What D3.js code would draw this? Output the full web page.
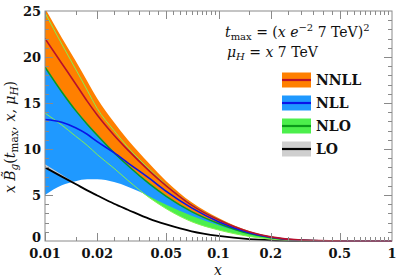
<!DOCTYPE html>
<html>
<head>
<meta charset="utf-8">
<script src="https://cdn.jsdelivr.net/npm/d3@7"></script>
<style>
    body { margin: 0; background: #fff; }
    svg { display: block; }
    .tick-label { font-family: "DejaVu Serif", serif; font-weight: bold; font-size: 13px; fill: #111; }
    .math { font-family: "DejaVu Serif", serif; font-size: 14px; fill: #111; }
    .legend-label { font-family: "DejaVu Serif", serif; font-weight: bold; font-size: 14px; fill: #111; }
</style>
</head>
<body>
<div id="chart"></div>
<script>

// x grid the curves are read at
const xs = [0.01, 0.0125, 0.015, 0.0175, 0.02, 0.025, 0.03, 0.04, 0.05, 0.07, 0.1, 0.15, 0.2, 0.3, 0.5, 0.7, 1];

// NNLL band + central value
const nnllHi  = [25.3, 22.1, 19.6, 17.4, 15.5, 12.9, 11.0, 8.4, 6.5, 4.2, 2.5, 1.1, 0.5, 0.12, 0.01, 0, 0];
const nnllMid = [22.0, 19.3, 17.1, 15.2, 13.7, 11.5, 9.9, 7.6, 6.0, 3.9, 2.3, 1.0, 0.45, 0.1, 0.01, 0, 0];
const nnllLo  = [19.0, 16.3, 14.3, 12.8, 11.6, 9.7, 8.3, 6.3, 4.95, 3.25, 1.95, 0.85, 0.38, 0.08, 0.005, 0, 0];

// NLL band + central value
const nllHi  = [21.0, 18.5, 16.5, 14.8, 13.3, 11.2, 9.6, 7.4, 5.8, 3.8, 2.25, 0.95, 0.42, 0.09, 0.005, 0, 0];
const nllMid = [13.2, 12.9, 12.3, 11.6, 10.8, 9.6, 8.5, 6.8, 5.4, 3.6, 2.1, 0.9, 0.4, 0.08, 0.005, 0, 0];
const nllLo  = [5.0, 6.05, 6.5, 6.7, 6.7, 6.4, 5.9, 4.85, 3.95, 2.75, 1.7, 0.75, 0.33, 0.06, 0, 0, 0];

// NLO band + central value
const nloHi  = [24.8, 21.4, 18.7, 16.4, 14.4, 12.0, 10.2, 7.8, 6.1, 3.95, 2.35, 1.0, 0.45, 0.1, 0.01, 0, 0];
const nloMid = [18.9, 16.2, 14.2, 12.7, 11.5, 9.6, 8.2, 6.2, 4.85, 3.2, 1.9, 0.8, 0.35, 0.07, 0.005, 0, 0];
const nloLo  = [13.9, 12.6, 11.4, 10.4, 9.4, 7.9, 6.6, 4.7, 3.5, 2.1, 1.2, 0.5, 0.2, 0.04, 0, 0, 0];

// LO band + central value
const loHi  = [8.35, 7.2, 6.3, 5.56, 5.0, 4.1, 3.44, 2.43, 1.82, 1.06, 0.56, 0.2, 0.08, 0.02, 0, 0, 0];
const loMid = [8.0, 7.0, 6.2, 5.5, 4.95, 4.05, 3.4, 2.4, 1.8, 1.05, 0.55, 0.2, 0.08, 0.02, 0, 0, 0];
const loLo  = [7.9, 6.95, 6.15, 5.45, 4.9, 4.0, 3.36, 2.37, 1.78, 1.04, 0.54, 0.2, 0.08, 0.02, 0, 0, 0];

// axis ticks
const xLabelTicks = [0.01, 0.02, 0.05, 0.1, 0.2, 0.5, 1];
const xLabels = ["0.01", "0.02", "0.05", "0.1", "0.2", "0.5", "1"];
const yLabelTicks = [0, 5, 10, 15, 20, 25];

const legendNames = ["NNLL", "NLL", "NLO", "LO"];

const width = 399, height = 280;
const margin = { left: 45, right: 7, top: 11, bottom: 39 };

const x = d3.scaleLog().domain([0.01, 1]).range([margin.left, width - margin.right]);
const y = d3.scaleLinear().domain([0, 25]).range([height - margin.bottom, margin.top]);

const svg = d3.select("#chart").append("svg")
    .attr("width", width)
    .attr("height", height);

svg.append("defs").append("clipPath").attr("id", "plot-clip")
    .append("rect")
    .attr("x", x(0.01))
    .attr("y", y(25))
    .attr("width", x(1) - x(0.01))
    .attr("height", y(0) - y(25) + 2);

const plot = svg.append("g").attr("clip-path", "url(#plot-clip)");

// bands, drawn bottom to top
const bands = [
    { hi: nloHi, lo: nloLo, fill: "#4cef4c" },
    { hi: nllHi, lo: nllLo, fill: "#1f99ff" },
    { hi: nnllHi, lo: nnllLo, fill: "#ff8000" },
    { hi: loHi, lo: loLo, fill: "#cfcfcf" }
];

const area = d3.area()
    .curve(d3.curveMonotoneX)
    .x(d => x(d.x))
    .y0(d => y(d.lo))
    .y1(d => y(d.hi));

bands.forEach(b => {
    const pts = xs.map((v, i) => ({ x: v, lo: b.lo[i], hi: b.hi[i] }));
    plot.append("path")
        .attr("d", area(pts))
        .attr("fill", b.fill)
        .attr("stroke", "none");
});

const line = d3.line()
    .curve(d3.curveMonotoneX)
    .x(d => x(d.x))
    .y(d => y(d.v));

// central lines and the NLO band edges
const lines = [
    { vals: loMid, color: "#000000", w: 1.8 },
    { vals: nloHi, color: "#84f24e", w: 1.0 },
    { vals: nloLo, color: "#84f24e", w: 1.0 },
    { vals: nloMid, color: "#0b9a1a", w: 1.5 },
    { vals: nllMid, color: "#0a14e8", w: 1.6 },
    { vals: nnllMid, color: "#b8102c", w: 1.6 }
];

lines.forEach(l => {
    const pts = xs.map((v, i) => ({ x: v, v: l.vals[i] }));
    plot.append("path")
        .attr("d", line(pts))
        .attr("fill", "none")
        .attr("stroke", l.color)
        .attr("stroke-width", l.w);
});

// Frame and ticks
const frameColor = "#8a8a8a";
const x0 = x(0.01), x1 = x(1), y0 = y(0), y1 = y(25);

svg.append("rect")
    .attr("x", x0).attr("y", y1)
    .attr("width", x1 - x0).attr("height", y0 - y1)
    .attr("fill", "none")
    .attr("stroke", frameColor)
    .attr("stroke-width", 1);

const minorX = d3.range(2, 20).map(k => k * 0.005).concat(d3.range(2, 20).map(k => k * 0.05));
const ticksG = svg.append("g").attr("stroke", frameColor).attr("stroke-width", 1);

minorX.forEach(t => {
    const major = xLabelTicks.some(m => Math.abs(m - t) < 1e-9);
    const len = major ? 8 : 4;
    const px = Math.round(x(t)) + 0.5;
    ticksG.append("line").attr("x1", px).attr("x2", px).attr("y1", y0).attr("y2", y0 - len);
    ticksG.append("line").attr("x1", px).attr("x2", px).attr("y1", y1).attr("y2", y1 + len);
});

d3.range(1, 25).forEach(t => {
    const len = t % 5 === 0 ? 8 : 4;
    const py = Math.round(y(t)) + 0.5;
    ticksG.append("line").attr("x1", x0).attr("x2", x0 + len).attr("y1", py).attr("y2", py);
    ticksG.append("line").attr("x1", x1).attr("x2", x1 - len).attr("y1", py).attr("y2", py);
});

// tick labels
svg.append("g").selectAll("text")
    .data(xLabelTicks)
    .enter().append("text")
    .attr("class", "tick-label")
    .attr("x", d => x(d))
    .attr("y", 258)
    .attr("text-anchor", "middle")
    .text((d, i) => xLabels[i]);

svg.append("g").selectAll("text")
    .data(yLabelTicks)
    .enter().append("text")
    .attr("class", "tick-label")
    .attr("x", 41)
    .attr("y", d => y(d) - (d === 0 ? 3.5 : 0))
    .attr("dy", "0.36em")
    .attr("text-anchor", "end")
    .text(d => d);

// axis titles
svg.append("text")
    .attr("class", "math")
    .attr("x", 218)
    .attr("y", 275)
    .attr("text-anchor", "middle")
    .attr("font-style", "italic")
    .attr("font-size", 14)
    .text("x");

const yTitle = svg.append("text")
    .attr("class", "math")
    .attr("font-size", 15.5)
    .attr("transform", "translate(15,137) rotate(-90)")
    .attr("text-anchor", "middle");
yTitle.append("tspan").attr("font-style", "italic").text("x B\u0303");
yTitle.append("tspan").attr("font-style", "italic").attr("font-size", 10.5).attr("dy", 3).text("g");
yTitle.append("tspan").attr("dy", -3).text("(");
yTitle.append("tspan").attr("font-style", "italic").text("t");
yTitle.append("tspan").attr("font-size", 10.5).attr("dy", 3).text("max");
yTitle.append("tspan").attr("dy", -3).text(", ");
yTitle.append("tspan").attr("font-style", "italic").text("x, μ");
yTitle.append("tspan").attr("font-style", "italic").attr("font-size", 10.5).attr("dy", 3).text("H");
yTitle.append("tspan").attr("dy", -3).text(")");

// annotation
const ann1 = svg.append("text").attr("class", "math").attr("x", 225).attr("y", 37);
ann1.append("tspan").attr("font-style", "italic").text("t");
ann1.append("tspan").attr("font-size", 10).attr("dy", 3).text("max");
ann1.append("tspan").attr("dy", -3).text(" = (");
ann1.append("tspan").attr("font-style", "italic").text("x e");
ann1.append("tspan").attr("font-size", 10).attr("dy", -6).text("\u22122");
ann1.append("tspan").attr("dy", 6).text(" 7 TeV)");
ann1.append("tspan").attr("font-size", 10).attr("dy", -6).text("2");

const ann2 = svg.append("text").attr("class", "math").attr("x", 227).attr("y", 57);
ann2.append("tspan").attr("font-style", "italic").text("μ");
ann2.append("tspan").attr("font-style", "italic").attr("font-size", 10).attr("dy", 3).text("H");
ann2.append("tspan").attr("dy", -3).text(" = ");
ann2.append("tspan").attr("font-style", "italic").text("x");
ann2.append("tspan").text(" 7 TeV");

// legend
const legendFill = ["#ff8000", "#1f99ff", "#4cef4c", "#cfcfcf"];
const legendLine = ["#b8102c", "#0a14e8", "#0b9a1a", "#000000"];

const legend = svg.append("g").selectAll("g")
    .data(legendNames)
    .enter().append("g")
    .attr("transform", (d, i) => `translate(282, ${80 + i * 23})`);

legend.append("rect")
    .attr("x", 0).attr("y", -7.5)
    .attr("width", 29).attr("height", 15)
    .attr("fill", (d, i) => legendFill[i]);

legend.append("line")
    .attr("x1", 0).attr("x2", 29)
    .attr("y1", 0).attr("y2", 0)
    .attr("stroke", (d, i) => legendLine[i])
    .attr("stroke-width", 2.2);

legend.append("text")
    .attr("class", "legend-label")
    .attr("x", 34)
    .attr("y", 5)
    .text(d => d);

</script>
</body>
</html>
